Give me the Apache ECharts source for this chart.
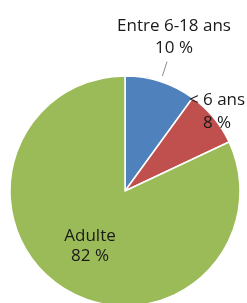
<!DOCTYPE html>
<html><head><meta charset="utf-8">
<script src="https://cdn.jsdelivr.net/npm/echarts@6/dist/echarts.min.js"></script>
<style>html,body{margin:0;padding:0;background:#fff}#c{width:247px;height:303px}</style>
</head><body><div id="c"></div>
<script>
const categories = ['Entre 6-18 ans', '< 6 ans', 'Adulte'];
const values = [10, 8, 82];
const colors = ['#4F81BD', '#C0504D', '#9BBB59'];
const labelPos = [[174, 37], [217, 112], [90, 246]];
const labelLineHeights = [22, 23, 20];
const chart = echarts.init(document.getElementById('c'), null, {renderer: 'canvas'});
chart.setOption({
  animation: false,
  series: [{
    type: 'pie',
    center: [125, 191],
    radius: 115,
    startAngle: 90,
    clockwise: true,
    data: categories.map((n, i) => ({
      name: n, value: values[i], itemStyle: {color: colors[i]},
      label: {lineHeight: labelLineHeights[i]}
    })),
    itemStyle: {borderColor: '#fff', borderWidth: 1.5},
    label: {
      show: true,
      position: 'inside',
      formatter: p => p.name + '\n' + p.value + ' %',
      fontFamily: 'Open Sans',
      fontSize: 17,
      color: '#1a1a1a',
      align: 'center'
    },
    labelLine: {show: false},
    labelLayout: function (p) {
      const pos = labelPos[p.dataIndex];
      return {x: pos[0], y: pos[1], align: 'center', verticalAlign: 'middle'};
    }
  }, {
    // invisible ring used only to draw the radial leader line of the first slice
    type: 'pie',
    silent: true,
    center: [125, 191],
    radius: 121,
    startAngle: 90,
    clockwise: true,
    z: 1,
    data: categories.map((n, i) => ({
      name: n, value: values[i],
      label: {show: i === 0},
      labelLine: {show: i === 0}
    })),
    itemStyle: {color: 'rgba(0,0,0,0)', borderWidth: 0},
    label: {position: 'outside', formatter: ' ', fontSize: 1},
    labelLine: {length: 15, length2: 0, lineStyle: {color: '#8a8a8a', width: 1}}
  }]
});
</script></body></html>
